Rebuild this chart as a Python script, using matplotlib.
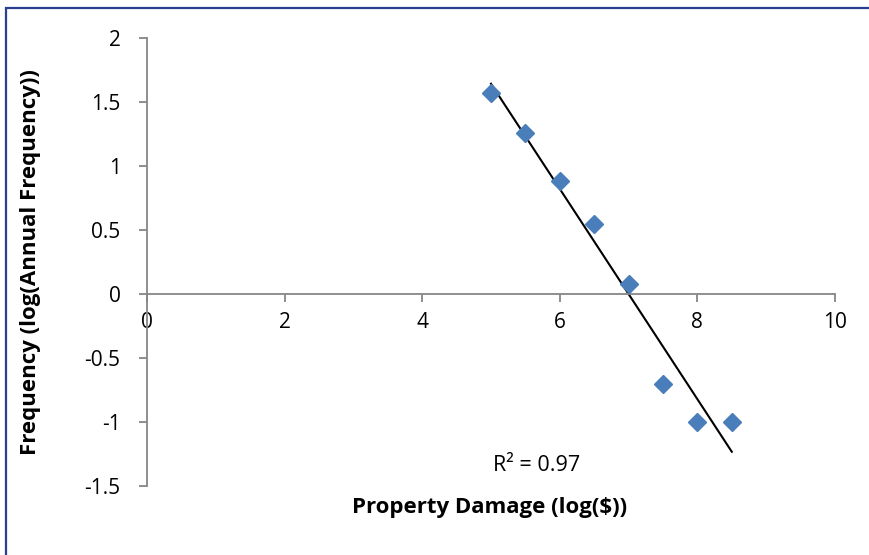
import numpy as np
import matplotlib.pyplot as plt
from matplotlib.patches import Rectangle

# log property damage vs log annual frequency
damage = [5.0, 5.5, 6.0, 6.5, 7.0, 7.5, 8.0, 8.5]
frequency = [1.57, 1.26, 0.88, 0.55, 0.08, -0.70, -1.0, -1.0]
x_ticks = [0, 2, 4, 6, 8, 10]
y_ticks = [-1.5, -1, -0.5, 0, 0.5, 1, 1.5, 2]
r2_label = 'R² = 0.97'

plt.rcParams['font.family'] = ['Open Sans', 'DejaVu Sans']

W, H = 869, 555
fig = plt.figure(figsize=(W / 100, H / 100), dpi=100)

# frame around the chart area
fig.patches.append(Rectangle((6 / W, 0 - 0.05), 1.05, 1 - 8 / H + 0.05,
                             transform=fig.transFigure, fill=False,
                             edgecolor='#2a3f8f', linewidth=1.6))

ax = fig.add_axes([147 / W, 1 - 486 / H, (835 - 147) / W, (486 - 38) / H])
ax.set_xlim(0, 10)
ax.set_ylim(-1.5, 2)

grey = '#868686'
ax.spines['top'].set_visible(False)
ax.spines['right'].set_visible(False)
ax.spines['bottom'].set_position(('data', 0))
ax.spines['left'].set_color(grey)
ax.spines['bottom'].set_color(grey)
ax.spines['left'].set_linewidth(1.3)
ax.spines['bottom'].set_linewidth(1.3)

ax.set_xticks(x_ticks)
ax.set_xticklabels([str(t) for t in x_ticks])
ax.set_yticks(y_ticks)
ax.set_yticklabels(['%g' % t for t in y_ticks])
ax.tick_params(axis='both', direction='out', length=6, width=1.3, color=grey,
               labelsize=15, labelcolor='black')
ax.tick_params(axis='y', pad=13)
ax.tick_params(axis='x', pad=7)

# linear trendline (like Excel)
slope, icpt = np.polyfit(damage, frequency, 1)
xs = np.array([min(damage), max(damage)])
ax.plot(xs, slope * xs + icpt, color='black', linewidth=1.5, zorder=2)

ax.plot(damage, frequency, linestyle='none', marker='D', markersize=9.5,
        color='#4a7ebb', zorder=3)

ax.text(5.67, -1.34, r2_label, fontsize=15.5, ha='center', va='center')

fig.text(490 / W, 1 - 508 / H, 'Property Damage (log($))', fontsize=16,
         fontweight='bold', ha='center', va='center')
fig.text(31 / W, 1 - 262 / H, 'Frequency (log(Annual Frequency))', fontsize=16,
         fontweight='bold', ha='center', va='center', rotation=90)

fig.savefig('out.png', dpi=100)
